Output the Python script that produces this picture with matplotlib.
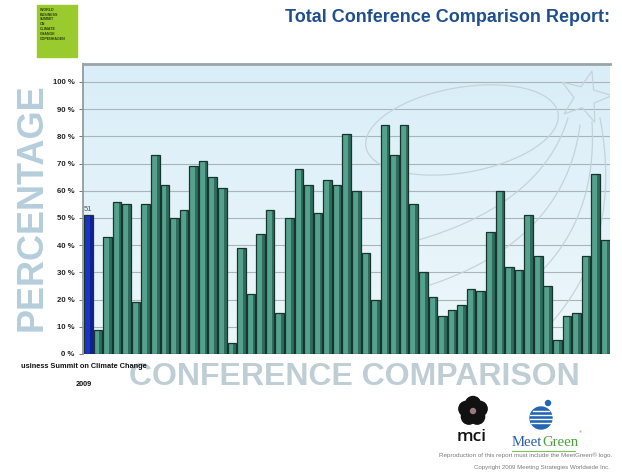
import numpy as np
import matplotlib
matplotlib.use("Agg")
import matplotlib.pyplot as plt
from matplotlib.patches import Rectangle, Ellipse, Circle, Polygon
from matplotlib.colors import LinearSegmentedColormap

# ---------------- data ----------------
values = [51, 9, 43, 56, 55, 19, 55, 73, 62, 50,
          53, 69, 71, 65, 61, 4, 39, 22, 44, 53,
          15, 50, 68, 62, 52, 64, 62, 81, 60, 37,
          20, 84, 73, 84, 55, 30, 21, 14, 16, 18,
          24, 23, 45, 60, 32, 31, 51, 36, 25, 5,
          14, 15, 36, 66, 42]
highlight_index = 0
highlight_label = "51"
tick_values = [0, 10, 20, 30, 40, 50, 60, 70, 80, 90, 100]
tick_labels = [f"{v} %" for v in tick_values]
first_label_line1 = "usiness Summit on Climate Change"
first_label_line2 = "2009"
title_text = "Total Conference Comparison Report:"
y_title = "PERCENTAGE"
x_title = "CONFERENCE COMPARISON"
logo_text = "WORLD\nBUSINESS\nSUMMIT\nON\nCLIMATE\nCHANGE\nCOPENHAGEN"
copy_line1 = "Reproduction of this report must include the MeetGreen\u00ae logo."
copy_line2 = "Copyright 2009 Meeting Strategies Worldwide Inc."

plt.rcParams['font.family'] = ['Liberation Sans', 'DejaVu Sans']

W, H = 622, 475
fig = plt.figure(figsize=(W / 100, H / 100), dpi=100)
fig.patch.set_facecolor("white")

# decoration layer in pixel coordinates
deco = fig.add_axes([0, 0, 1, 1], zorder=0)
deco.set_xlim(0, W)
deco.set_ylim(H, 0)
deco.axis("off")

# main axes
ax_left, ax_right, ax_top, ax_bottom = 83, 610, 64, 354
ax = fig.add_axes([ax_left / W, 1 - ax_bottom / H, (ax_right - ax_left) / W, (ax_bottom - ax_top) / H],
                  zorder=1)
ymax = 106.6
xmin, xmax = -0.55, len(values) - 0.5

# background gradient
cmap = LinearSegmentedColormap.from_list("bg", ["#eef7fb", "#d9eef8"])
grad = np.linspace(0, 1, 256).reshape(-1, 1)
ax.imshow(grad, extent=[xmin, xmax, 0, ymax], origin="lower", aspect="auto", cmap=cmap, zorder=0)

# watermark (faint swoosh + star)
wm_color = "#c6d3d9"
ax.add_patch(Ellipse((462, 130), 195, 85, angle=-10, fill=False, ec=wm_color, lw=0.9,
                     transform=deco.transData, zorder=0.7, clip_path=ax.patch))
cx, cy, Ro, Ri = 585, 97, 27, 11
pts = []
for k in range(10):
    a = np.deg2rad(-90 + 15 + k * 36)
    r = Ro if k % 2 == 0 else Ri
    pts.append((cx + r * np.cos(a), cy + r * np.sin(a)))
ax.add_patch(Polygon(pts, closed=True, fill=False, ec=wm_color, lw=0.9,
                     transform=deco.transData, zorder=0.7, clip_path=ax.patch))
tt = np.linspace(0, 1, 60)
for (p0, p1, p2) in [((568, 118), (540, 210), (400, 245)),
                     ((580, 125), (565, 240), (430, 285)),
                     ((592, 122), (600, 260), (470, 320)),
                     ((600, 118), (625, 250), (540, 335))]:
    bx = (1 - tt) ** 2 * p0[0] + 2 * (1 - tt) * tt * p1[0] + tt ** 2 * p2[0]
    by = (1 - tt) ** 2 * p0[1] + 2 * (1 - tt) * tt * p1[1] + tt ** 2 * p2[1]
    ln, = ax.plot(bx, by, color=wm_color, lw=0.9, transform=deco.transData, zorder=0.7)
    ln.set_clip_path(ax.patch)

# bars
x = np.arange(len(values))
fill_colors = ["#1a35c6" if i == highlight_index else "#54a28d" for i in range(len(values))]
shade_colors = ["#0e2092" if i == highlight_index else "#2f6c5d" for i in range(len(values))]
bw = 0.9
ax.bar(x, values, width=bw, color=fill_colors, linewidth=0, zorder=2)
ax.bar(x + bw / 2 - 0.14, values, width=0.28, color=shade_colors, linewidth=0, zorder=2.2)
ax.bar(x, values, width=bw, fill=False, edgecolor="#17352d", linewidth=0.9, zorder=2.4)

ax.text(highlight_index, values[highlight_index] + 0.8, highlight_label, ha="center", va="bottom",
        fontsize=5.5, color="#555555", zorder=3)

ax.set_xlim(xmin, xmax)
ax.set_ylim(0, ymax)
ax.set_yticks(tick_values)
ax.set_yticklabels(tick_labels, fontsize=5.6, fontweight="bold", color="#222222")
ax.set_xticks([])
ax.tick_params(axis="y", length=3, width=0.7, color="#777777", pad=3)
ax.yaxis.grid(True, color="#aab5ba", linewidth=0.8)
ax.set_axisbelow(True)
for s in ("right", "bottom"):
    ax.spines[s].set_visible(False)
ax.spines["left"].set_color("#8a9499")
ax.spines["left"].set_linewidth(1.2)
ax.spines["top"].set_color("#9aa3a7")
ax.spines["top"].set_linewidth(2.0)

# ---------------- decorations ----------------
# green logo
deco.add_patch(Rectangle((37, 5), 40, 52, color="#9acb2e"))
deco.text(40, 8, logo_text, ha="left", va="top", fontsize=2.6, fontweight="bold",
          color="#2d3d12", linespacing=1.25)

# title
deco.text(610, 18, title_text, ha="right", va="center", fontsize=13, fontweight="bold",
          color="#1f4f8f")

# axis titles (watermark style)
deco.text(32, 207, y_title, rotation=90, ha="center", va="center", fontsize=26,
          fontweight="bold", color="#b6cedb")
deco.text(354, 377, x_title, ha="center", va="center", fontsize=23,
          fontweight="bold", color="#bfcdd4")

# first category label
fig.text(84, 367, first_label_line1, ha="center", va="center", fontsize=5.3,
         fontweight="bold", color="#111111", transform=deco.transData)
fig.text(84, 385, first_label_line2, ha="center", va="center", fontsize=5.3,
         fontweight="bold", color="#111111", transform=deco.transData)

# mci logo
fcx, fcy = 473, 411
for k in range(5):
    a = np.deg2rad(-90 + k * 72)
    deco.add_patch(Circle((fcx + 7 * np.cos(a), fcy + 7 * np.sin(a)), 7.5, color="#111111"))
deco.add_patch(Circle((fcx, fcy), 2.5, color="#9a7a80"))
deco.text(472, 437, "mci", ha="center", va="center", fontsize=12.5, color="#111111",
          family=["Open Sans", "DejaVu Sans"], fontweight="semibold")

# MeetGreen logo
gcx, gcy, gr = 541, 418, 11
deco.add_patch(Circle((gcx, gcy), gr, color="#2465b5"))
for yy in (411, 415, 419, 423):
    hw = np.sqrt(max(gr ** 2 - (yy - gcy) ** 2, 0))
    deco.plot([gcx - hw, gcx + hw], [yy, yy], color="white", lw=1.0)
deco.add_patch(Circle((548, 403), 2.5, color="#2465b5"))
t1 = deco.text(512, 446, "Meet", ha="left", va="baseline", fontsize=10.6, color="#2a5ea8",
               family=["Liberation Serif", "DejaVu Serif"])
fig.canvas.draw()
bb = t1.get_window_extent(fig.canvas.get_renderer())
x_end = deco.transData.inverted().transform((bb.x1, bb.y0))[0]
deco.text(x_end, 446, "Green", ha="left", va="baseline", fontsize=10.6, color="#4c9f3d",
          family=["Liberation Serif", "DejaVu Serif"])
deco.plot([512, 575], [451, 451], color="#7cbf5c", lw=0.8)
deco.text(579, 432, "\u00ae", fontsize=3, color="#4c9f3d", ha="left", va="center")

deco.text(612, 455, copy_line1, ha="right", va="center", fontsize=4.5, color="#7a7a7a")
deco.text(610, 467, copy_line2, ha="right", va="center", fontsize=4.4, color="#7a7a7a")

fig.savefig("out.png", dpi=100, facecolor="white")
